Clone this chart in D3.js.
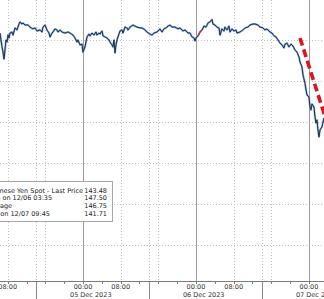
<!DOCTYPE html>
<html><head><meta charset="utf-8">
<script src="https://cdn.jsdelivr.net/npm/d3@7"></script>
<style>html,body{margin:0;padding:0;background:#fff;overflow:hidden}svg{display:block}</style>
</head><body><svg id="c" width="324" height="299"></svg>
<script>
// hours relative to 05 Dec 2023 00:00
const hours = [-17.63,-17.42,-17.20,-16.99,-16.78,-16.57,-16.35,-16.14,-15.93,-15.72,-15.51,-15.08,-14.87,-14.44,-14.02,-13.59,-13.38,-12.96,-12.74,-12.32,
-11.68,-11.26,-10.62,-10.20,-9.77,-9.13,-8.71,-8.50,-8.07,-7.65,-7.22,-7.01,-6.58,-6.37,-5.95,-5.52,-5.31,-4.89,-4.46,-3.82,
-3.19,-2.76,-2.12,-1.70,-1.27,-1.06,-0.64,-0.21,0,0.42,0.64,0.85,1.27,1.49,1.91,2.34,2.76,2.97,3.40,3.61,
4.04,4.25,4.67,5.10,5.52,5.73,6.16,6.37,6.58,6.80,7.01,7.22,7.43,7.86,8.28,8.50,8.92,9.35,9.56,9.98,
10.62,11.04,11.47,12.11,12.53,13.17,13.59,14.23,14.66,15.08,15.72,16.35,16.78,17.20,17.63,18.05,18.48,18.90,19.54,20.18,
20.60,21.24,21.66,22.30,22.73,23.15,23.58,23.79,24.00,24.43,24.85,25.28,25.70,26.12,26.55,26.97,27.40,27.61,28.04,28.46,
28.89,29.10,29.52,29.95,30.16,30.59,31.01,31.22,31.65,32.07,32.50,32.71,33.35,33.98,34.41,35.05,35.47,36.11,36.53,37.17,
37.60,38.23,38.66,39.08,39.72,40.14,40.57,40.99,41.42,41.84,42.27,42.69,42.90,43.33,43.75,44.18,44.60,45.03,45.45,45.88,
46.09,46.52,46.73,47.15,47.37,47.58,48.00,48.22,48.43,48.64,49.06,49.28,49.49,49.70,49.91,50.13,50.34,50.77,50.98,51.19];
const prices = [146.84,146.50,146.16,145.91,145.57,146.01,146.50,146.40,146.74,146.60,146.84,146.89,146.74,147.09,146.99,147.28,147.38,147.28,147.33,147.23,
147.23,147.13,147.04,147.09,146.94,146.99,146.89,147.13,147.23,146.99,146.84,146.65,146.84,146.89,147.04,146.99,146.89,146.99,146.89,146.84,
146.89,146.84,146.74,146.60,146.40,146.50,146.26,146.30,145.91,146.16,146.40,146.65,146.79,146.70,146.84,146.74,146.89,146.74,146.84,146.79,
146.94,146.70,146.65,146.60,146.50,146.40,146.26,146.16,146.50,145.87,146.26,146.50,146.65,146.94,146.99,146.84,147.13,147.09,146.99,147.13,
147.23,147.18,147.13,147.09,147.09,146.99,146.89,146.79,146.74,146.84,146.89,147.04,146.89,147.04,147.09,147.18,147.23,147.13,147.13,147.04,
147.09,146.94,146.99,146.84,146.84,146.65,146.60,146.45,146.60,146.70,146.89,146.99,147.18,147.13,147.33,147.38,147.50,147.28,147.23,147.13,
147.09,146.74,147.04,146.94,147.13,146.99,147.18,146.89,147.04,146.94,146.99,146.84,146.89,146.99,147.09,147.13,147.23,147.28,147.28,147.23,
147.13,147.09,146.99,147.04,146.89,146.84,146.70,146.65,146.50,146.35,146.26,146.11,146.30,146.35,146.16,146.30,146.21,146.01,145.91,145.67,
145.43,145.18,144.79,144.40,144.06,143.82,143.72,143.23,143.09,143.38,143.23,142.74,142.45,142.60,142.11,141.77,142.11,142.26,142.50,142.70];
// short red-highlighted stretch early on 06 Dec
const highlightHours = [24.43, 24.85, 25.28];
const highlightPrices = [146.70, 146.89, 146.99];
const trendHours = [46.09, 52.46];
const trendPrices = [146.60, 142.01];
const gridPrices = [146.5, 144.5, 142.5, 140.5, 138.5, 136.5];
const midnightHours = [0, 24, 48];
const dottedHours = [-16, -10, -8, 8, 14, 16, 32, 38, 40];
const sessionHours = [-10, 14, 38];
const timeTickHours = [-16, 0, 8, 24, 32, 48];
const timeTickLabels = ["08:00", "00:00", "08:00", "00:00", "08:00", "00:00"];
const dateTickHours = [0, 24, 48];
const dateTickLabels = ["05 Dec 2023", "06 Dec 2023", "07 Dec 2023"];
const legendLabels = ["Japanese Yen Spot - Last Price", "High on 12/06 03:35", "Average", "Low on 12/07 09:45"];
const legendValues = ["143.48", "147.50", "146.75", "141.71"];

const base = Date.UTC(2023, 11, 5);
const T = h => new Date(base + h * 3600e3);
const W = 324, H = 299, axisY = 281;
const svg = d3.select("#c");
const x = d3.scaleUtc().domain([T(-17.63), T(51.19)]).range([0, W]);
const y = d3.scaleLinear().domain([134.744, 148.451]).range([axisY, 0]);
const FONT = "DejaVu Sans";

const g = svg.append("g");
g.selectAll(".hg").data(gridPrices).join("line")
  .attr("x1", 0).attr("x2", W)
  .attr("y1", d => Math.round(y(d)) + 0.5).attr("y2", d => Math.round(y(d)) + 0.5)
  .attr("stroke", "#bdbdbd").attr("stroke-dasharray", "1,2");
g.selectAll(".vg").data(dottedHours).join("line")
  .attr("x1", d => Math.round(x(T(d))) + 0.5).attr("x2", d => Math.round(x(T(d))) + 0.5)
  .attr("y1", 0).attr("y2", axisY)
  .attr("stroke", "#c4c4c4").attr("stroke-dasharray", "1,2");
g.selectAll(".mg").data(midnightHours).join("line")
  .attr("x1", d => Math.round(x(T(d))) + 0.5).attr("x2", d => Math.round(x(T(d))) + 0.5)
  .attr("y1", 0).attr("y2", axisY)
  .attr("stroke", "#9a9a9a");
g.selectAll(".sg").data(sessionHours).join("line")
  .attr("x1", d => Math.round(x(T(d))) + 0.5).attr("x2", d => Math.round(x(T(d))) + 0.5)
  .attr("y1", axisY).attr("y2", H)
  .attr("stroke", "#8a8a8a");
g.append("line").attr("x1", 0).attr("x2", W).attr("y1", axisY + 0.5).attr("y2", axisY + 0.5).attr("stroke", "#7a7a7a");
const minor = d3.range(-16, 52, 4);
g.selectAll(".mt").data(minor).join("line")
  .attr("x1", d => Math.round(x(T(d))) + 0.5).attr("x2", d => Math.round(x(T(d))) + 0.5)
  .attr("y1", axisY).attr("y2", axisY + 3)
  .attr("stroke", "#7a7a7a");

const data = hours.map((h, i) => ({t: T(h), v: prices[i]}));
const line = d3.line().x(d => x(d.t)).y(d => y(d.v));
g.append("path").datum(data).attr("d", line).attr("fill", "none")
  .attr("stroke", "#5b8fd0").attr("stroke-width", 2.0).attr("stroke-linejoin", "round").attr("opacity", 0.75);
g.append("path").datum(data).attr("d", line).attr("fill", "none")
  .attr("stroke", "#1a2535").attr("stroke-width", 0.9).attr("stroke-linejoin", "round");
const hl = highlightHours.map((h, i) => ({t: T(h), v: highlightPrices[i]}));
g.append("path").datum(hl).attr("d", line).attr("fill", "none")
  .attr("stroke", "#c8323a").attr("stroke-width", 1.3);

const trend = trendHours.map((h, i) => ({t: T(h), v: trendPrices[i]}));
g.append("path").datum(trend).attr("d", line).attr("fill", "none")
  .attr("stroke", "#d8161f").attr("stroke-width", 3.6).attr("stroke-dasharray", "8,4");

g.selectAll(".tl").data(timeTickHours).join("text")
  .attr("x", d => x(T(d))).attr("y", 289)
  .attr("text-anchor", "middle").attr("font-family", FONT).attr("font-size", 6.5).attr("fill", "#333")
  .text((d, i) => timeTickLabels[i]);
g.selectAll(".dl").data(dateTickHours).join("text")
  .attr("x", d => x(T(d)) - 13).attr("y", 297)
  .attr("text-anchor", "start").attr("font-family", FONT).attr("font-size", 6.5).attr("fill", "#333")
  .text((d, i) => dateTickLabels[i]);

const lg = svg.append("g");
lg.append("rect").attr("x", -30.5).attr("y", 181.5).attr("width", 143).attr("height", 40)
  .attr("fill", "#fff").attr("stroke", "#a8a8a8");
const lx = -14.6;
lg.selectAll(".ll").data(legendLabels).join("text")
  .attr("x", lx).attr("y", (d, i) => 192.5 + i * 7.8)
  .attr("font-family", FONT).attr("font-size", 6.5).attr("fill", "#222").text(d => d);
lg.selectAll(".lv").data(legendValues).join("text")
  .attr("x", 107).attr("y", (d, i) => 192.5 + i * 7.8).attr("text-anchor", "end")
  .attr("font-family", FONT).attr("font-size", 6.5).attr("fill", "#222").text(d => d);
</script></body></html>
